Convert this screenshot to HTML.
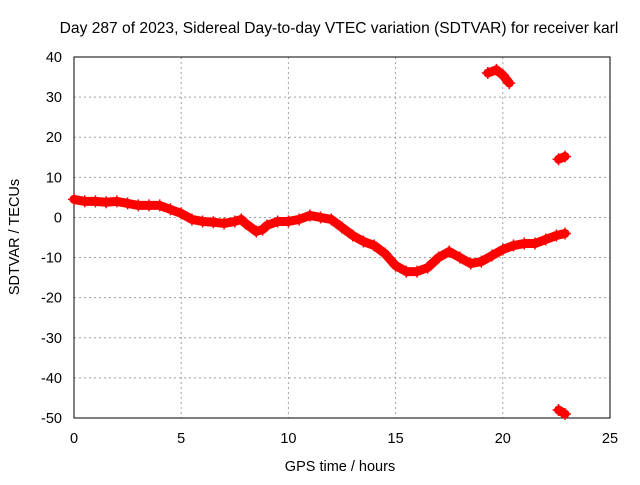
<!DOCTYPE html>
<html><head><meta charset="utf-8"><style>
body{margin:0;background:#fff;font-family:"Liberation Sans",sans-serif}
svg text{font-family:"Liberation Sans",sans-serif;font-size:14.5px;fill:#000}
</style></head><body>
<svg id="chart" width="640" height="480" viewBox="0 0 640 480">
<rect width="640" height="480" fill="#fff"/>
<text x="339" y="33" text-anchor="middle" style="font-size:15.6px">Day 287 of 2023, Sidereal Day-to-day VTEC variation (SDTVAR) for receiver karl</text>
<g id="grid"></g>
<rect x="74" y="57" width="536" height="361" fill="none" stroke="#000" stroke-width="1"/>
<g id="ticks"></g>
<g id="series"></g>
<text x="340" y="471" text-anchor="middle">GPS time / hours</text>
<text transform="translate(19,237) rotate(-90)" text-anchor="middle">SDTVAR / TECUs</text>
</svg>
<script>
const xTicks=[0,5,10,15,20,25];
const yTicks=[40,30,20,10,0,-10,-20,-30,-40,-50];
const mainHours=[0,0.5,1,1.5,2,2.5,3,3.5,4,4.5,5,5.5,6,6.5,7,7.5,7.8,8,8.5,8.8,9,9.5,10,10.5,11,11.5,12,12.5,13,13.5,14,14.5,15,15.5,16,16.5,17,17.5,18,18.5,19,19.5,20,20.5,21,21.5,22,22.5,22.9];
const mainValues=[4.5,4,4,3.8,4,3.5,3,3,3,2,1,-0.5,-1,-1.2,-1.5,-1,-0.5,-1.5,-3.5,-3,-2,-1,-1,-0.5,0.5,0,-0.5,-2.5,-4.5,-6,-7,-9,-12,-13.5,-13.5,-12.5,-10,-8.5,-10,-11.5,-11,-9.5,-8,-7,-6.5,-6.5,-5.5,-4.5,-4];
const highHours=[19.3,19.7,20.0,20.3];
const highValues=[36,36.8,35.5,33.5];
const midHours=[22.6,22.9];
const midValues=[14.5,15.2];
const lowHours=[22.6,22.9];
const lowValues=[-48,-49];

const X=h=>74+h*(536/25);
const Y=v=>57+(40-v)*(361/90);
const NS="http://www.w3.org/2000/svg";
const grid=document.getElementById('grid'),ticks=document.getElementById('ticks'),series=document.getElementById('series');
function mk(tag,attrs,parent){const e=document.createElementNS(NS,tag);for(const k in attrs)e.setAttribute(k,attrs[k]);parent.appendChild(e);return e;}
xTicks.forEach(t=>{
  if(t>0&&t<25){const g=mk('line',{x1:X(t),x2:X(t),y1:57,y2:418,stroke:'#a0a0a0','stroke-dasharray':'2,3'},grid);
  
  }
  const l=mk('text',{x:X(t),y:443,'text-anchor':'middle'},ticks);l.textContent=t;
  
  
});
yTicks.forEach(t=>{
  if(t<40&&t>-50){const g=mk('line',{x1:74,x2:610,y1:Y(t),y2:Y(t),stroke:'#a0a0a0','stroke-dasharray':'2,3'},grid);
  
  }
  const l=mk('text',{x:62,y:Y(t)+5,'text-anchor':'end'},ticks);l.textContent=t;
  
  
});
function drawSeries(hs,vs,name){
  const pts=hs.map((h,i)=>X(h)+','+Y(vs[i])).join(' ');
  const p=mk('polyline',{points:pts,fill:'none',stroke:'#f00','stroke-width':9,'stroke-linejoin':'round','stroke-linecap':'round'},series);
  
  
  hs.forEach((h,i)=>{
    const x=X(h),y=Y(vs[i]);
    const m=mk('path',{d:`M${x-6},${y}h12M${x},${y-6}v12`,stroke:'#f00','stroke-width':1.5},series);
    
    
  });
}
drawSeries(mainHours,mainValues,'main-series');
drawSeries(highHours,highValues,'high-series');
drawSeries(midHours,midValues,'mid-series');
drawSeries(lowHours,lowValues,'low-series');
</script>
</body></html>
